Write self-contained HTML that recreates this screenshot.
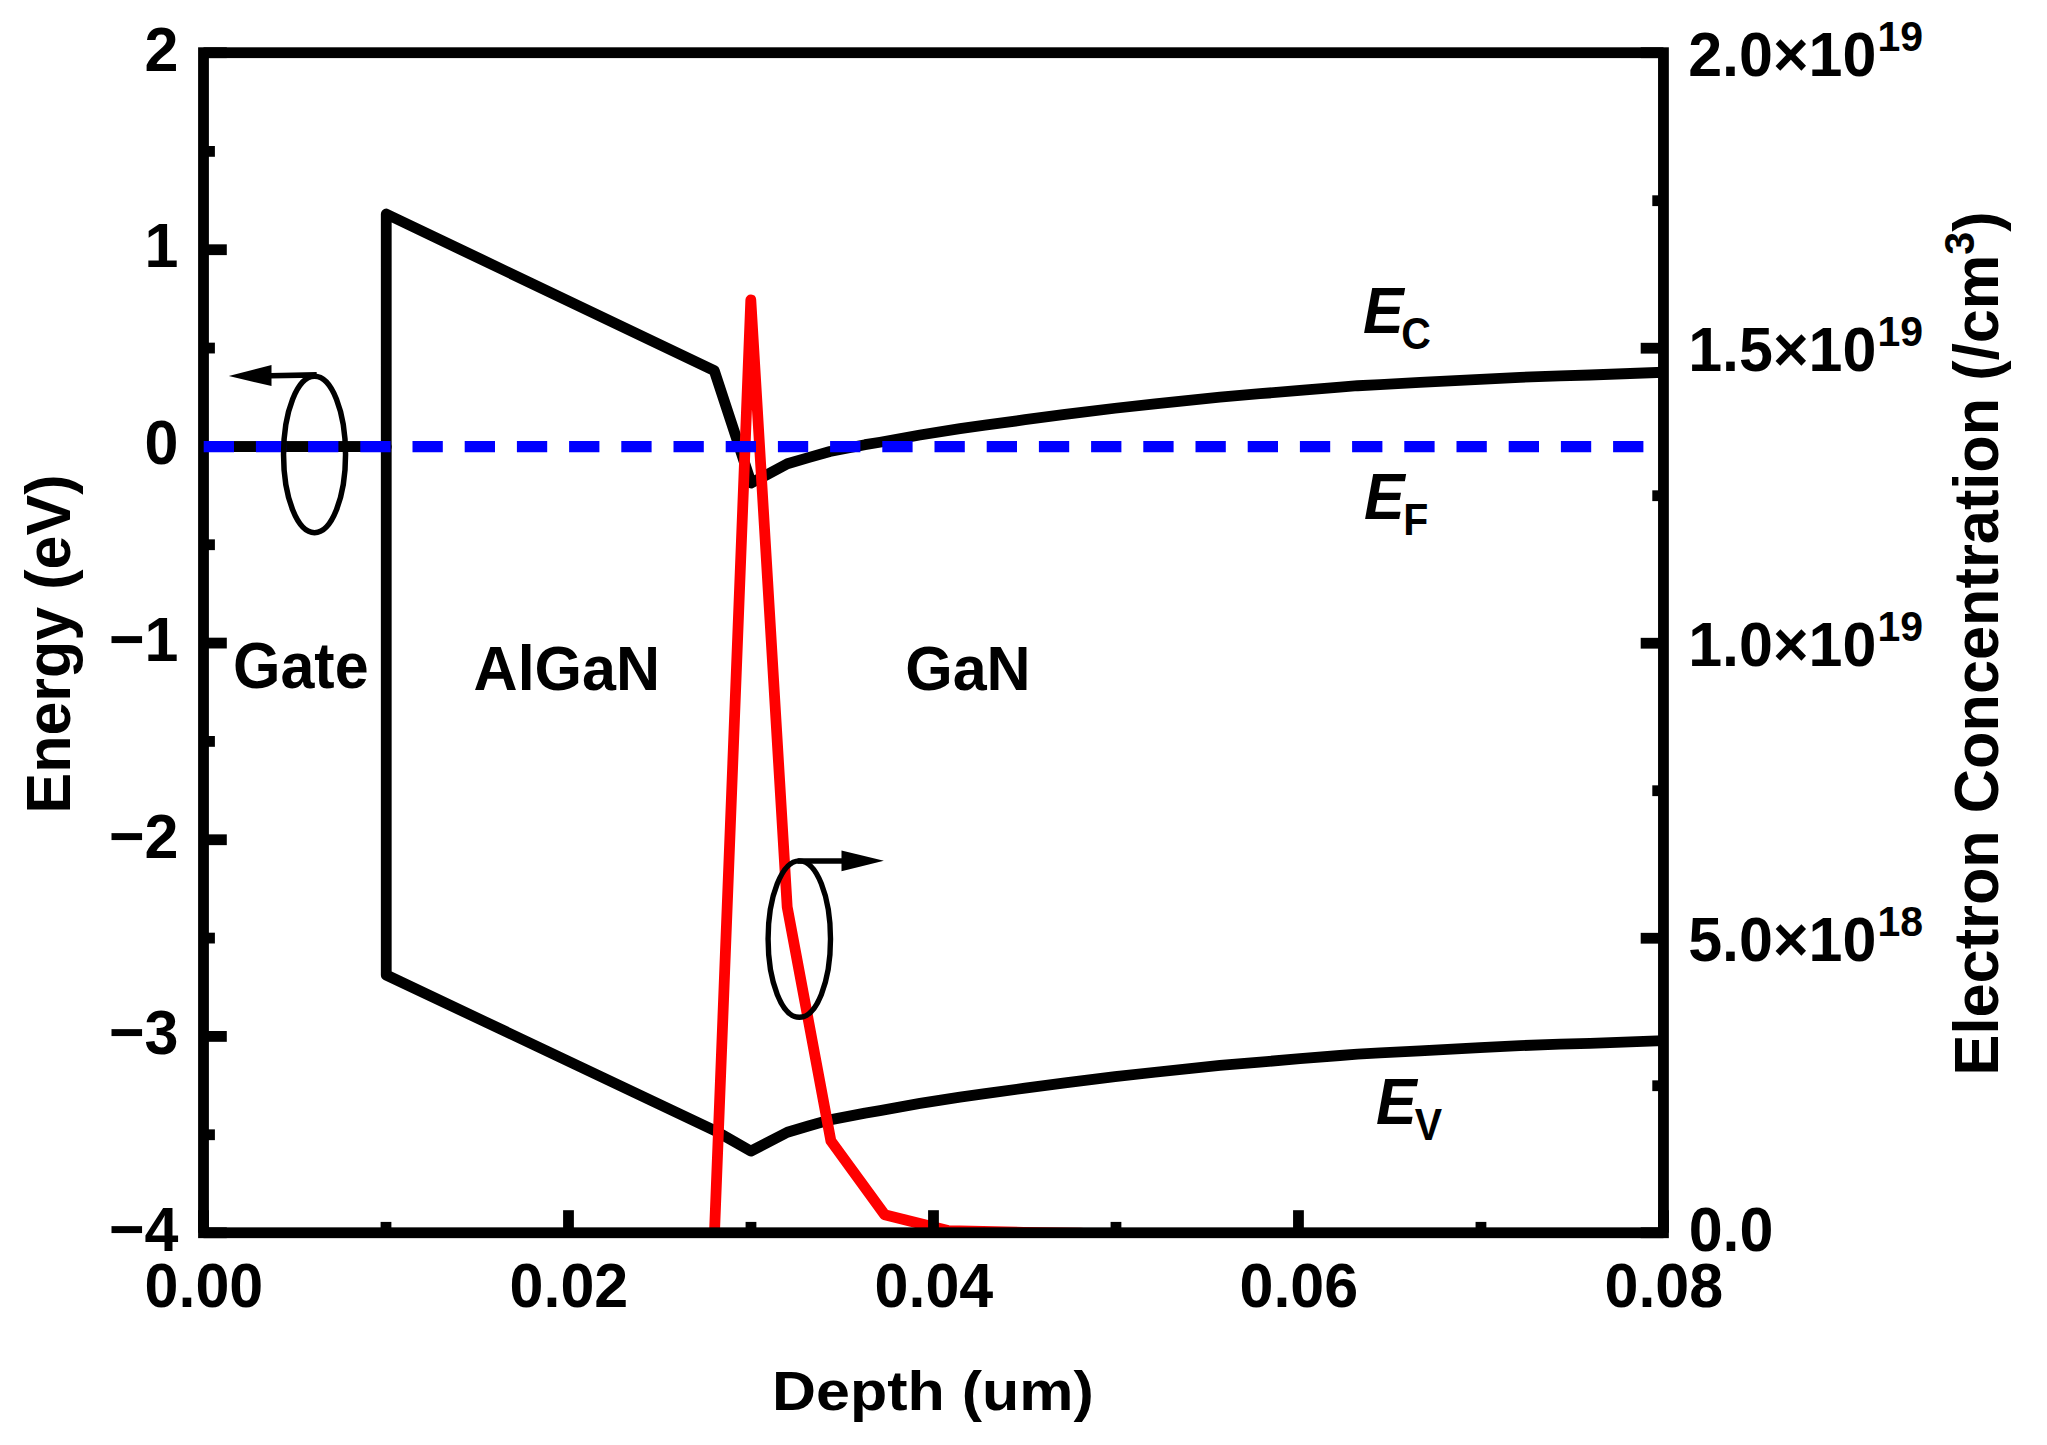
<!DOCTYPE html>
<html><head><meta charset="utf-8"><title>Band diagram</title>
<style>
html,body{margin:0;padding:0;background:#fff;}
svg{display:block;}
text{font-family:"Liberation Sans",sans-serif;font-weight:bold;fill:#000;}
.t{font-size:61px;}
.s{font-size:41px;}
</style></head><body>
<svg width="2047" height="1445" viewBox="0 0 2047 1445">
<rect width="2047" height="1445" fill="#fff"/>
<defs><clipPath id="plot"><rect x="203.5" y="52.7" width="1460" height="1180.05"/></clipPath></defs>
<!-- data -->
<g clip-path="url(#plot)" fill="none" stroke-linejoin="round" stroke-linecap="butt">
<polyline id="ev" stroke="#000" stroke-width="10.8" points="203.50,446.70 386.25,446.70 386.25,975.00 714.30,1130.30 750.90,1151.10 787.40,1132.20 808.40,1126.00 829.90,1119.90 865.00,1113.10 880.00,1110.64 920.00,1103.40 960.00,1097.06 985.00,1093.59 1025.00,1088.12 1065.00,1082.84 1115.00,1076.65 1155.00,1072.25 1220.00,1065.46 1260.00,1062.14 1300.00,1058.72 1340.00,1055.50 1357.60,1054.14 1380.00,1052.97 1420.00,1050.82 1480.00,1047.73 1520.00,1045.67 1560.00,1044.21 1590.00,1043.40 1663.50,1040.67"/>
<polyline id="ec" stroke="#000" stroke-width="10.8" points="203.50,446.70 386.25,446.70 386.25,214.00 714.30,370.70 751.20,483.00 787.40,463.80 808.40,457.60 829.90,451.50 865.00,444.70 880.00,442.24 920.00,435.00 960.00,428.66 985.00,425.19 1025.00,419.72 1065.00,414.44 1115.00,408.25 1155.00,403.85 1220.00,397.06 1260.00,393.74 1300.00,390.32 1340.00,387.10 1357.60,385.74 1380.00,384.57 1420.00,382.42 1480.00,379.33 1520.00,377.27 1560.00,375.81 1590.00,375.00 1663.50,372.27"/>
</g>
<g clip-path="url(#plot)" fill="none" stroke-linejoin="round" stroke-linecap="butt">
<polyline id="ne" stroke="#f00" stroke-width="10.8" points="714.50,1232.75 750.80,299.90 787.20,907.00 830.90,1140.90 884.70,1214.80 947.90,1230.60 1023.70,1232.30 1080.00,1233.20 1114.60,1236.00"/>
</g>
<!-- frame -->
<g stroke="#000" stroke-width="10.8" fill="none">
<rect x="203.5" y="52.7" width="1459.95" height="1180.05"/>
<g id="ticks">
<line x1="203.5" y1="52.70" x2="226.8" y2="52.70"/>
<line x1="203.5" y1="151.39" x2="214.9" y2="151.39"/>
<line x1="203.5" y1="249.72" x2="226.8" y2="249.72"/>
<line x1="203.5" y1="348.06" x2="214.9" y2="348.06"/>
<line x1="203.5" y1="446.40" x2="226.8" y2="446.40"/>
<line x1="203.5" y1="544.74" x2="214.9" y2="544.74"/>
<line x1="203.5" y1="643.08" x2="226.8" y2="643.08"/>
<line x1="203.5" y1="741.41" x2="214.9" y2="741.41"/>
<line x1="203.5" y1="839.75" x2="226.8" y2="839.75"/>
<line x1="203.5" y1="938.09" x2="214.9" y2="938.09"/>
<line x1="203.5" y1="1036.42" x2="226.8" y2="1036.42"/>
<line x1="203.5" y1="1134.76" x2="214.9" y2="1134.76"/>
<line x1="203.5" y1="1232.75" x2="226.8" y2="1232.75"/>
<line x1="1663.45" y1="1232.75" x2="1640.7" y2="1232.75"/>
<line x1="1663.45" y1="1085.74" x2="1652.3" y2="1085.74"/>
<line x1="1663.45" y1="938.24" x2="1640.7" y2="938.24"/>
<line x1="1663.45" y1="790.73" x2="1652.3" y2="790.73"/>
<line x1="1663.45" y1="643.23" x2="1640.7" y2="643.23"/>
<line x1="1663.45" y1="495.72" x2="1652.3" y2="495.72"/>
<line x1="1663.45" y1="348.21" x2="1640.7" y2="348.21"/>
<line x1="1663.45" y1="200.71" x2="1652.3" y2="200.71"/>
<line x1="1663.45" y1="52.70" x2="1640.7" y2="52.70"/>
<line x1="203.50" y1="1232.75" x2="203.50" y2="1210.2"/>
<line x1="385.99" y1="1232.75" x2="385.99" y2="1221.9"/>
<line x1="568.49" y1="1232.75" x2="568.49" y2="1210.2"/>
<line x1="750.98" y1="1232.75" x2="750.98" y2="1221.9"/>
<line x1="933.48" y1="1232.75" x2="933.48" y2="1210.2"/>
<line x1="1115.97" y1="1232.75" x2="1115.97" y2="1221.9"/>
<line x1="1298.46" y1="1232.75" x2="1298.46" y2="1210.2"/>
<line x1="1480.96" y1="1232.75" x2="1480.96" y2="1221.9"/>
<line x1="1663.45" y1="1232.75" x2="1663.45" y2="1210.2"/>
</g>
</g>
<!-- EF dashed line -->
<line x1="203.7" y1="446.68" x2="1663.5" y2="446.68" stroke="#00f" stroke-width="11.2" stroke-dasharray="30.3 21.9"/>
<!-- ellipses & arrows -->
<g stroke="#000" fill="none" stroke-width="5.5">
<ellipse cx="314.55" cy="454.45" rx="31" ry="78.2"/>
<line x1="316.7" y1="374.9" x2="270" y2="375.75" stroke-width="5.7"/>
</g>
<polygon points="228.8,376.1 271.5,365.1 271.5,386.1" fill="#000"/>
<g stroke="#000" fill="none" stroke-width="5.4">
<ellipse cx="799.3" cy="939.1" rx="31.2" ry="78.2"/>
<line x1="797.6" y1="860.9" x2="843" y2="860.9" stroke-width="5.5"/>
</g>
<polygon points="883.9,860.8 841.5,850.4 841.5,871.2" fill="#000"/>
<!-- labels -->
<g class="t" id="axl">
<text transform="translate(178.40,70.80) scale(1.0,1.045)" text-anchor="end">2</text>
<text transform="translate(178.40,267.48) scale(1.0,1.045)" text-anchor="end">1</text>
<text transform="translate(178.40,464.15) scale(1.0,1.045)" text-anchor="end">0</text>
<text transform="translate(178.40,660.83) scale(1.0,1.045)" text-anchor="end">−1</text>
<text transform="translate(178.40,857.50) scale(1.0,1.045)" text-anchor="end">−2</text>
<text transform="translate(178.40,1054.17) scale(1.0,1.045)" text-anchor="end">−3</text>
<text transform="translate(178.40,1250.85) scale(1.0,1.045)" text-anchor="end">−4</text>
<text transform="translate(203.90,1306.60) scale(1.0,1.045)" text-anchor="middle">0.00</text>
<text transform="translate(568.89,1306.60) scale(1.0,1.045)" text-anchor="middle">0.02</text>
<text transform="translate(933.88,1306.60) scale(1.0,1.045)" text-anchor="middle">0.04</text>
<text transform="translate(1298.86,1306.60) scale(1.0,1.045)" text-anchor="middle">0.06</text>
<text transform="translate(1663.85,1306.60) scale(1.0,1.045)" text-anchor="middle">0.08</text>
<text transform="translate(1688.70,1251.05) scale(1.0,1.045)">0.0</text>
<text transform="translate(1688.20,960.54) scale(1.0,1.045)">5.0×10<tspan class="s" dy="-23.4" dx="1">18</tspan></text>
<text transform="translate(1688.20,665.52) scale(1.0,1.045)">1.0×10<tspan class="s" dy="-23.4" dx="1">19</tspan></text>
<text transform="translate(1688.20,370.51) scale(1.0,1.045)">1.5×10<tspan class="s" dy="-23.4" dx="1">19</tspan></text>
<text transform="translate(1688.20,75.50) scale(1.0,1.045)">2.0×10<tspan class="s" dy="-23.4" dx="1">19</tspan></text>
<text transform="translate(69.90,813.50) rotate(-90) scale(1.0,1.02)">Energy (eV)</text>
<text transform="translate(772.00,1410.00) scale(1.0,0.915)">Depth (um)</text>
<text transform="translate(1998.00,1075.40) rotate(-90) scale(1.0048,1.02)">Electron Concentration (/cm<tspan class="s" dy="-24">3</tspan><tspan dy="24">)</tspan></text>
<text transform="translate(233.00,687.50) scale(1.0,1.06)">Gate</text>
<text transform="translate(473.60,690.20) scale(1.0,1.04)">AlGaN</text>
<text transform="translate(905.20,690.40) scale(1.0,1.04)">GaN</text>
<text transform="translate(1363.00,333.40) scale(1.0,1.075)"><tspan font-style="italic">E</tspan><tspan class="s" dy="14.9" dx="-2.5">C</tspan></text>
<text transform="translate(1364.00,519.00) scale(1.0,1.075)"><tspan font-style="italic">E</tspan><tspan class="s" dy="14.9" dx="-1.5">F</tspan></text>
<text transform="translate(1376.00,1123.90) scale(1.0,1.075)"><tspan font-style="italic">E</tspan><tspan class="s" dy="14.9" dx="-2">V</tspan></text>
</g>
</svg>
</body></html>
